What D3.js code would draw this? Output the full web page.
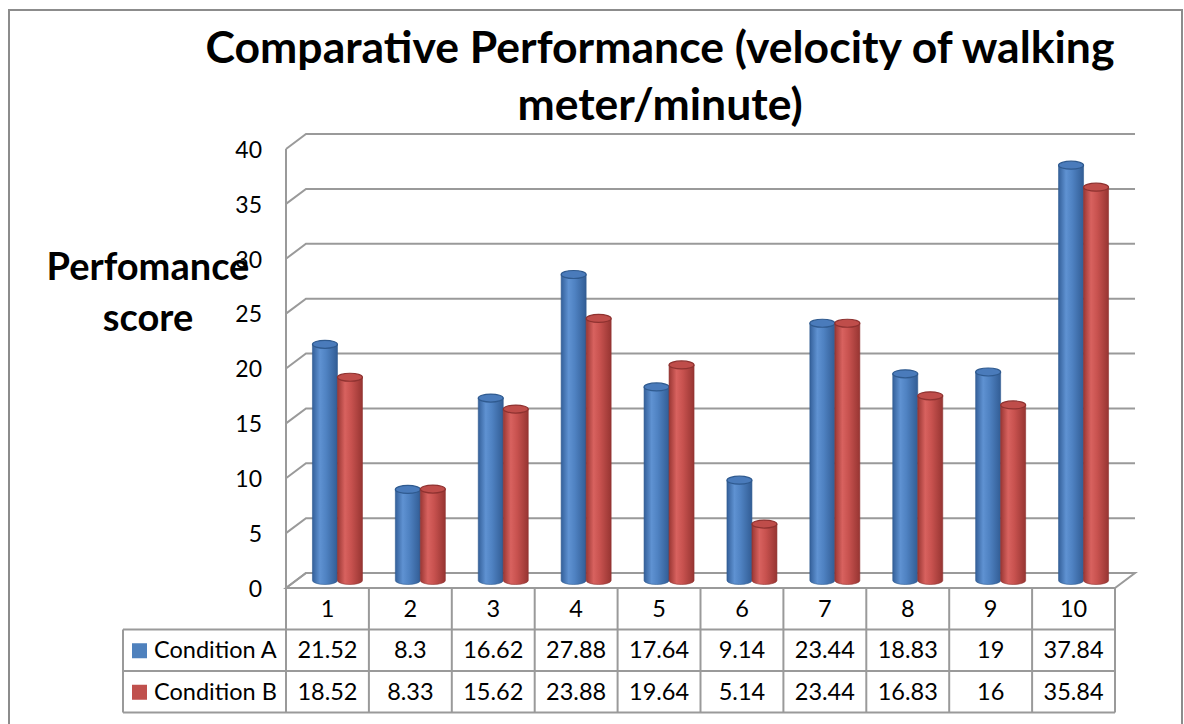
<!DOCTYPE html>
<html>
<head>
<meta charset="utf-8">
<script src="https://cdn.jsdelivr.net/npm/d3@7"></script>
<style>
  body { margin: 0; background: #fff; }
  svg { display: block; font-family: Lato, "Open Sans", sans-serif; }
</style>
</head>
<body>
<svg id="chart" width="1184" height="724"></svg>
<script>
//  chart data
const categories = ["1", "2", "3", "4", "5", "6", "7", "8", "9", "10"];
const series_names = ["Condition A", "Condition B"];
const condition_a = [21.52, 8.3, 16.62, 27.88, 17.64, 9.14, 23.44, 18.83, 19, 37.84];
const condition_b = [18.52, 8.33, 15.62, 23.88, 19.64, 5.14, 23.44, 16.83, 16, 35.84];
const y_ticks = [0, 5, 10, 15, 20, 25, 30, 35, 40];
const title_lines = ["Comparative Performance (velocity of walking", "meter/minute)"];
const y_title_lines = ["Perfomance", "score"];

const w = 1184
const h = 724
const plot = ({left: 286, right: 1115, top: 149, bottom: 588})
const depth = ({dx: 20, dy: -15})
const grid_color = "#9a9a9a"
const colors = {"Condition A": "#4f81bd", "Condition B": "#c0504d"}

const svg = d3.select("#chart").attr("width", w).attr("height", h)

//  gradients for the cylinders
const defs = svg.append("defs")
function add_gradient(id, stops) {
  const g = defs.append("linearGradient").attr("id", id)
    .attr("x1", "0%").attr("x2", "100%").attr("y1", "0%").attr("y2", "0%")
  stops.forEach(s => g.append("stop").attr("offset", s[0]).attr("stop-color", s[1]))
}
add_gradient("grad-a", [["0%", "#34609a"], ["30%", "#5f92d2"], ["55%", "#4f82c2"], ["100%", "#325d95"]])
add_gradient("grad-b", [["0%", "#9a3734"], ["30%", "#d8625f"], ["55%", "#c8524f"], ["100%", "#973532"]])

//  outer border
svg.append("rect")
   .attr("x", 9).attr("y", 10)
   .attr("width", 1173).attr("height", 740)
   .attr("fill", "none").attr("stroke", "#8c8c8c").attr("stroke-width", 2)

//  scales
const x = d3.scaleBand().domain(categories).range([plot.left, plot.right])
const bar_w = 25
const x1 = d3.scaleBand().domain(series_names).range([0, 2 * bar_w])
const y = d3.scaleLinear().domain([0, 40]).range([plot.bottom, plot.top])

//  floor
svg.append("path")
   .attr("d", `M${plot.left},${plot.bottom} L${plot.left + depth.dx},${plot.bottom + depth.dy} L${plot.right + depth.dx},${plot.bottom + depth.dy} L${plot.right},${plot.bottom} Z`)
   .attr("fill", "#fff").attr("stroke", grid_color).attr("stroke-width", 2)

//  gridlines: diagonal on the left wall then along the back wall
svg.selectAll(".grid")
   .data(y_ticks).enter().append("path")
   .attr("class", "grid")
   .attr("d", t => `M${plot.left},${y(t)} L${plot.left + depth.dx},${y(t) + depth.dy} L${plot.right + depth.dx},${y(t) + depth.dy}`)
   .attr("fill", "none").attr("stroke", grid_color).attr("stroke-width", 2)

//  left wall front edge
svg.append("line")
   .attr("x1", plot.left).attr("x2", plot.left)
   .attr("y1", y(40)).attr("y2", plot.bottom)
   .attr("stroke", grid_color).attr("stroke-width", 2)

//  y tick labels
svg.selectAll(".ytick")
   .data(y_ticks).enter().append("text")
   .attr("class", "ytick")
   .attr("x", 262)
   .attr("y", t => y(t) + 3)
   .attr("text-anchor", "end")
   .attr("dominant-baseline", "middle")
   .style("font-size", "23px")
   .text(t => t)

//  cylinders
const rows = series_names.map((s, i) => ({name: s, values: i == 0 ? condition_a : condition_b}))
const ry = 4
rows.forEach((row, si) => {
  const g = svg.append("g")
  row.values.forEach((v, ci) => {
    const left = x(categories[ci]) + (x.bandwidth() - 2 * bar_w) / 2 + depth.dx / 2 + x1(row.name)
    const right = left + bar_w
    const cx = (left + right) / 2
    const yb = y(0) + depth.dy / 2
    const yt = y(v) + depth.dy / 2
    const rx = bar_w / 2
    const dark = si == 0 ? "#2f5a8f" : "#8e3230"
    g.append("path")
     .attr("d", `M${left},${yt} L${left},${yb} A${rx},${ry} 0 0 0 ${right},${yb} L${right},${yt} Z`)
     .attr("fill", `url(#grad-${si == 0 ? "a" : "b"})`)
     .attr("stroke", dark).attr("stroke-width", 0.6)
    g.append("ellipse")
     .attr("cx", cx).attr("cy", yt)
     .attr("rx", rx).attr("ry", ry)
     .attr("fill", si == 0 ? "#4a7bbb" : "#bf4d4a")
     .attr("stroke", dark).attr("stroke-width", 1.2)
  })
})

//  data table
const row_h = 41.5
const tbl = svg.append("g").attr("stroke", grid_color).attr("stroke-width", 2).attr("fill", "none")
const table_top = plot.bottom
const table_bottom = table_top + 3 * row_h
const legend_left = 123

//  horizontal lines
tbl.append("line").attr("x1", plot.left).attr("x2", plot.right).attr("y1", table_top).attr("y2", table_top)
for (let r = 1; r <= 3; ++r) {
  tbl.append("line")
     .attr("x1", legend_left).attr("x2", plot.right)
     .attr("y1", table_top + r * row_h).attr("y2", table_top + r * row_h)
}
//  vertical lines
categories.forEach(c => {
  tbl.append("line").attr("x1", x(c)).attr("x2", x(c)).attr("y1", table_top).attr("y2", table_bottom)
})
tbl.append("line").attr("x1", plot.right).attr("x2", plot.right).attr("y1", table_top).attr("y2", table_bottom)
tbl.append("line").attr("x1", legend_left).attr("x2", legend_left).attr("y1", table_top + row_h).attr("y2", table_bottom)

//  category labels
svg.selectAll(".xlab")
   .data(categories).enter().append("text")
   .attr("class", "xlab")
   .attr("x", c => x(c) + x.bandwidth() / 2)
   .attr("y", table_top + row_h / 2 + 2)
   .attr("text-anchor", "middle").attr("dominant-baseline", "middle")
   .style("font-size", "23.5px")
   .text(c => c)

//  values and legend keys
rows.forEach((row, si) => {
  const cy = table_top + (si + 1.5) * row_h + 2
  svg.append("rect")
     .attr("x", 132).attr("y", cy - 9)
     .attr("width", 15).attr("height", 15)
     .attr("fill", colors[row.name])
  svg.append("text")
     .attr("x", 154).attr("y", cy)
     .attr("dominant-baseline", "middle")
     .style("font-size", "23.5px")
     .text(row.name)
  svg.selectAll(".val" + si)
     .data(row.values).enter().append("text")
     .attr("x", (_, i) => x(categories[i]) + x.bandwidth() / 2)
     .attr("y", cy)
     .attr("text-anchor", "middle").attr("dominant-baseline", "middle")
     .style("font-size", "23.5px")
     .text(v => v)
})

//  title
title_lines.forEach((t, i) => {
  svg.append("text")
     .attr("x", 660).attr("y", 63 + i * 57)
     .attr("text-anchor", "middle")
     .style("font-size", "44.5px").style("font-weight", "bold")
     .text(t)
})

//  y axis title
y_title_lines.forEach((t, i) => {
  svg.append("text")
     .attr("x", 148).attr("y", 280 + i * 51)
     .attr("text-anchor", "middle")
     .style("font-size", "38px").style("font-weight", "bold")
     .text(t)
})
</script>
</body>
</html>
